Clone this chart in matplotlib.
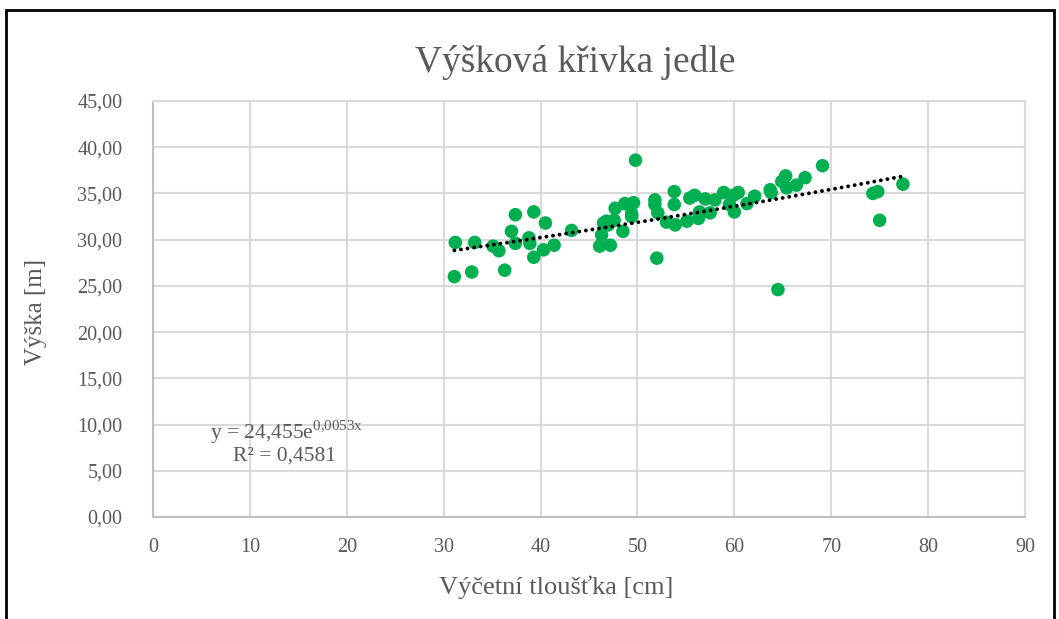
"""
Výšková křivka jedle: scatter of tree height vs. diameter with exponential trend
"""

import numpy as np
from matplotlib import pyplot as plt
from matplotlib.patches import Rectangle

# --------------------------------------------------------------------------------------------------
# Data
# --------------------------------------------------------------------------------------------------

diameter = [31.2, 31.1, 33.2, 32.9, 35.1, 35.7, 36.3, 37.0, 37.4, 37.4,
            38.8, 38.9, 39.3, 39.3, 40.3, 40.5, 41.4, 43.2, 46.1, 46.3,
            46.5, 47.0, 47.2, 47.6, 47.7, 48.5, 48.7, 49.4, 49.4, 49.6,
            49.8, 51.8, 52.0, 52.1, 53.0, 53.8, 53.8, 53.9, 55.1, 55.4,
            55.9, 56.3, 56.4, 57.0, 57.5, 58.0, 58.9, 59.5, 59.9, 60.0,
            60.4, 61.3, 62.1, 63.7, 63.8, 64.5, 64.9, 65.3, 65.4, 66.4,
            67.3, 69.1, 74.3, 74.8, 75.0, 77.4, 46.8, 51.8]
height = [29.7, 26.0, 29.7, 26.5, 29.3, 28.8, 26.7, 30.9, 32.7, 29.6,
          30.2, 29.6, 33.0, 28.1, 28.9, 31.8, 29.4, 31.0, 29.3, 30.5,
          31.8, 31.6, 29.4, 32.1, 33.4, 30.9, 33.9, 32.8, 32.5, 34.0,
          38.6, 34.3, 28.0, 32.9, 31.9, 35.2, 33.8, 31.6, 32.0, 34.5,
          34.8, 32.3, 33.0, 34.4, 32.9, 34.3, 35.1, 33.8, 34.8, 33.0,
          35.1, 33.9, 34.7, 35.4, 35.1, 24.6, 36.3, 36.9, 35.6, 35.9,
          36.7, 38.0, 35.0, 35.2, 32.1, 36.0, 32.0, 33.8]

# Exponential trend y = a * e^(b x) as printed on the chart
trend_a = 24.455
trend_b = 0.0053
trend_r2 = 0.4581

title = 'Výšková křivka jedle'
x_label = 'Výčetní tloušťka [cm]'
y_label = 'Výška [m]'
x_ticks = list(range(0, 100, 10))
y_ticks = list(range(0, 50, 5))

# --------------------------------------------------------------------------------------------------
# Plot
# --------------------------------------------------------------------------------------------------

plt.rcParams['font.family'] = ['Liberation Serif', 'DejaVu Serif']
text_color = '#595959'
grid_color = '#d9d9d9'

fig = plt.figure(figsize=(10.59, 6.19), dpi=100)
ax = fig.add_axes([153 / 1059, 1 - 517 / 619, (1025 - 153) / 1059, (517 - 101) / 619])

ax.scatter(diameter, height, s=95, color='#00b050', edgecolors='none', zorder=3)

# Trend line over the range of the data
tx = np.linspace(min(diameter), max(diameter), 200)
ax.plot(tx, trend_a * np.exp(trend_b * tx), color='black', linestyle=(0, (0.01, 1.7)),
        linewidth=2.8, dash_capstyle='round', zorder=4)

ax.set_xlim(0, 90)
ax.set_ylim(0, 45)
ax.set_xticks(x_ticks)
ax.set_yticks(y_ticks)
ax.set_xticklabels([str(t) for t in x_ticks])
ax.set_yticklabels([f'{t:.2f}'.replace('.', ',') for t in y_ticks])
ax.tick_params(length=0, labelsize=14.5, labelcolor=text_color)
ax.tick_params(axis='y', pad=22)
ax.tick_params(axis='x', pad=15)
ax.grid(True, color=grid_color, linewidth=1.5)
ax.set_axisbelow(True)
for s in ax.spines.values():
    s.set_color(grid_color)
    s.set_linewidth(1.5)
ax.spines['left'].set_color('#bfbfbf')
ax.spines['bottom'].set_color('#bfbfbf')

# Axis labels placed where the reference has them
ax.set_xlabel(x_label, fontsize=19, color=text_color)
ax.xaxis.set_label_coords((556 - 153) / (1025 - 153), -(587 - 517) / (517 - 101))
ax.xaxis.label.set_va('center')
ax.set_ylabel(y_label, fontsize=18, color=text_color)
ax.yaxis.set_label_coords(-(153 - 36) / (1025 - 153), (517 - 312) / (517 - 101))
ax.yaxis.label.set_va('center')
fig.text(575 / 1059, 1 - 63 / 619, title, fontsize=27, color=text_color,
         ha='center', va='center')

# Trend line equation
eq = f'y = {trend_a:.3f}e'.replace('.', ',') + \
     r'$^{\mathregular{' + f'{trend_b:.4f}'.replace('.', '{,}') + r'x}}$'
ax.text(13.8, 9.2, eq, fontsize=15.5, color=text_color, ha='center', va='center')
ax.text(13.6, 6.6, f'R² = {trend_r2:.4f}'.replace('.', ','), fontsize=15.5,
        color=text_color, ha='center', va='center')

# Black frame around the picture
fig.patches.append(Rectangle((6 / 1059, -0.05), 1048 / 1059, 1.05 - 10 / 619,
                             transform=fig.transFigure, fill=False,
                             edgecolor='black', linewidth=2))

fig.savefig('out.png', dpi=100, facecolor='white')
